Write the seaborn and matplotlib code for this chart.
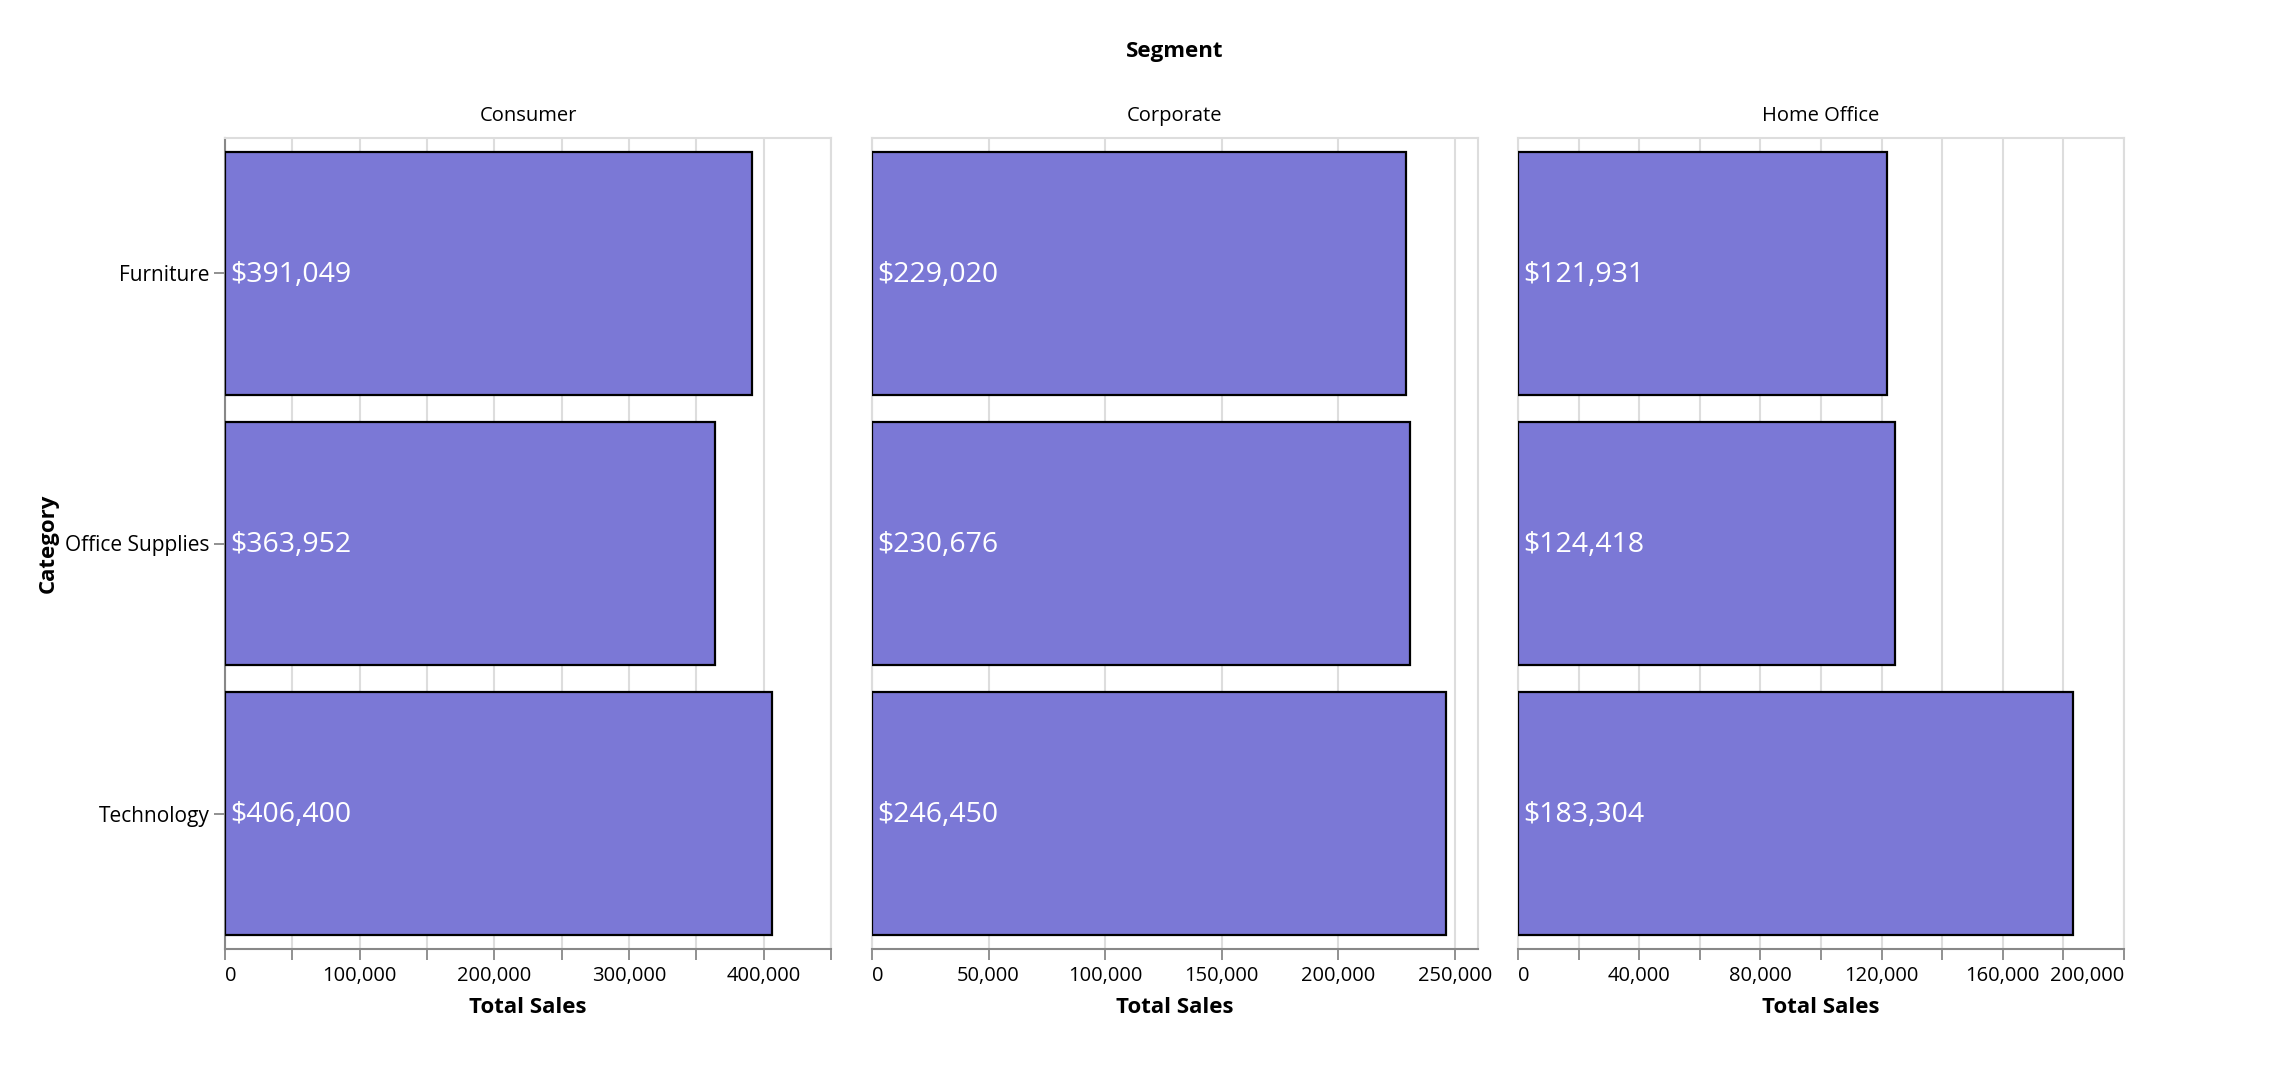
import numpy as np
import pandas as pd
import seaborn as sns
import matplotlib.pyplot as plt

# data
segments = ['Consumer', 'Corporate', 'Home Office']
categories = ['Furniture', 'Office Supplies', 'Technology']
consumer_sales = [391049, 363952, 406400]
corporate_sales = [229020, 230676, 246450]
home_office_sales = [121931, 124418, 183304]

x_limits = [450000, 260000, 200000]
tick_steps = [50000, 50000, 20000]
tick_maxes = [450000, 250000, 200000]
label_steps = [100000, 50000, 40000]

rows = []
for seg, vals in zip(segments, [consumer_sales, corporate_sales, home_office_sales]):
    for cat, v in zip(categories, vals):
        rows.append({'Segment': seg, 'Category': cat, 'Sales': v})
df = pd.DataFrame(rows)

sns.set_theme(style='white')
plt.rcParams['font.family'] = ['Open Sans', 'DejaVu Sans']
plt.rcParams['text.color'] = 'black'
plt.rcParams['axes.labelcolor'] = 'black'

W, H = 2278, 1092
fig = plt.figure(figsize=(W / 100, H / 100), dpi=100)

bar_color = '#7b78d6'
grid_color = '#dddddd'
axis_color = '#888888'

lefts = [225, 872, 1518]
panel_w = 606
top, bottom = 138, 949

for i, seg in enumerate(segments):
    ax = fig.add_axes([lefts[i] / W, 1 - bottom / H, panel_w / W, (bottom - top) / H])
    sub = df[df['Segment'] == seg]
    sns.barplot(data=sub, x='Sales', y='Category', order=categories, orient='h',
                color=bar_color, saturation=1, edgecolor='black', linewidth=1.6,
                width=0.9, ax=ax, zorder=3)
    ax.set_xlim(0, x_limits[i])
    ax.set_ylim(2.5, -0.5)

    ticks = np.arange(0, tick_maxes[i] + 1, tick_steps[i])
    ax.set_xticks(ticks)
    labels = [f'{int(t):,}' if t % label_steps[i] == 0 else '' for t in ticks]
    ax.set_xticklabels(labels)
    for t, lab in zip(ticks, ax.get_xticklabels()):
        if t == 0:
            lab.set_horizontalalignment('left')
        elif t == x_limits[i]:
            lab.set_horizontalalignment('right')
    ax.tick_params(axis='x', length=8, width=1.3, color=axis_color, labelsize=14.5,
                   pad=4, labelcolor='black', direction='out', bottom=True)
    ax.grid(axis='x', color=grid_color, linewidth=1.5, zorder=0)
    ax.set_axisbelow(True)

    for s in ['top', 'right', 'left']:
        ax.spines[s].set_color(grid_color)
        ax.spines[s].set_linewidth(1.5)
    ax.spines['bottom'].set_color(axis_color)
    ax.spines['bottom'].set_linewidth(1.5)

    if i == 0:
        ax.spines['left'].set_color(axis_color)
        ax.tick_params(axis='y', length=8, width=1.3, color=axis_color, labelsize=15,
                       pad=3, left=True, labelcolor='black')
        ax.set_ylabel('')
    else:
        ax.set_yticklabels([])
        ax.tick_params(axis='y', left=False)
        ax.set_ylabel('')

    ax.set_xlabel('Total Sales', fontsize=16, fontweight='bold', labelpad=8)
    ax.set_title(seg, fontsize=14.5, pad=12, color='black')

    for j, v in enumerate(sub['Sales']):
        ax.annotate(f'${v:,}', xy=(0, j), xytext=(4, -1), textcoords='offset points',
                    ha='left', va='center', color='white', fontsize=20.5, zorder=5)

fig.text((225 + 2124) / 2 / W, 1 - 51 / H, 'Segment', ha='center', va='center',
         fontsize=16, fontweight='bold')
fig.text(48 / W, 1 - (top + bottom) / 2 / H, 'Category', ha='center', va='center',
         rotation=90, fontsize=16, fontweight='bold')

fig.savefig('out.png', dpi=100, facecolor='white')
